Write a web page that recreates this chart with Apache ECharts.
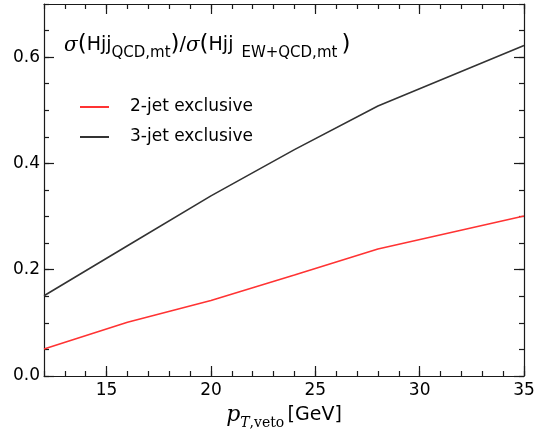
<!DOCTYPE html>
<html>
<head>
<meta charset="utf-8">
<script src="https://cdn.jsdelivr.net/npm/echarts@6/dist/echarts.min.js"></script>
<style>html,body{margin:0;padding:0;background:#fff}#c{width:538px;height:434px}</style>
</head>
<body>
<div id="c"></div>
<script>
var ptVeto = [12, 16, 20, 24, 28, 35];
var twoJetExcl = [0.051, 0.101, 0.142, 0.190, 0.239, 0.301];
var threeJetExcl = [0.151, 0.245, 0.339, 0.426, 0.508, 0.622];
var xMajorTicks = [15, 20, 25, 30, 35];
var xMinorTicks = [12,13,14,15,16,17,18,19,20,21,22,23,24,25,26,27,28,29,30,31,32,33,34,35];
var yMajorTicks = [0, 0.2, 0.4, 0.6];
var yMinorTicks = [0,0.05,0.1,0.15,0.2,0.25,0.3,0.35,0.4,0.45,0.5,0.55,0.6,0.65,0.7];
var seriesNames = ['2-jet exclusive', '3-jet exclusive'];

var FONT = 'DejaVu Sans';
var AX = '#1a1a1a';
function pairs(xs, ys){ return xs.map(function(x,i){ return [x, ys[i]]; }); }

function xAx(grid, pos, major, showLine){
  return {
    type:'value', gridIndex:grid, position:pos, min:12, max:35,
    axisLine:{show:showLine, onZero:false, lineStyle:{color:AX, width:1.2}},
    axisTick:{show:true, inside:true, length: major?10:5, customValues: major?xMajorTicks:xMinorTicks, lineStyle:{color:AX, width:1.2}},
    axisLabel:{show: major && pos==='bottom', customValues:xMajorTicks, margin:6, fontFamily:FONT, fontSize:17, color:'#000'},
    splitLine:{show:false}
  };
}
function yAx(grid, pos, major, showLine){
  return {
    type:'value', gridIndex:grid, position:pos, min:0, max:0.7,
    axisLine:{show:showLine, onZero:false, lineStyle:{color:AX, width:1.2}},
    axisTick:{show:true, inside:true, length: major?10:5, customValues: major?yMajorTicks:yMinorTicks, lineStyle:{color:AX, width:1.2}},
    axisLabel:{show: major && pos==='left', customValues:yMajorTicks, margin:4, fontFamily:FONT, fontSize:17, color:'#000',
      formatter:function(v){ return v.toFixed(1); }},
    splitLine:{show:false}
  };
}

var xA0 = xAx(0,'bottom',true,true);
xA0.name = '{p|p}{sub|T}{subr|,veto} {g|[GeV]}';
xA0.nameLocation = 'middle';
xA0.nameGap = 14;
xA0.nameTextStyle = {
  rich:{
    p:{fontFamily:'DejaVu Serif', fontStyle:'italic', fontSize:22, color:'#000', lineHeight:30},
    sub:{fontFamily:'DejaVu Serif', fontStyle:'italic', fontSize:14, color:'#000', lineHeight:10, verticalAlign:'bottom'},
    subr:{fontFamily:'DejaVu Serif', fontSize:14, color:'#000', lineHeight:10, verticalAlign:'bottom'},
    g:{fontFamily:FONT, fontSize:19, color:'#000', lineHeight:30}
  }
};

var chart = echarts.init(document.getElementById('c'), null, {renderer:'canvas'});
chart.setOption({
  animation:false,
  backgroundColor:'#fff',
  grid:[
    {left:44, right:14, top:4, bottom:58, containLabel:false, outerBoundsMode:'none'},
    {left:44, right:14, top:4, bottom:58, containLabel:false, outerBoundsMode:'none'}
  ],
  xAxis:[ xA0, xAx(0,'top',true,true), xAx(1,'bottom',false,false), xAx(1,'top',false,false) ],
  yAxis:[ yAx(0,'left',true,true), yAx(0,'right',true,true), yAx(1,'left',false,false), yAx(1,'right',false,false) ],
  legend:{
    orient:'vertical', left:75, top:92, itemGap:10, itemWidth:29, itemHeight:2, icon:'rect',
    textStyle:{fontFamily:FONT, fontSize:17, color:'#000', lineHeight:20, padding:[0,0,0,16]},
    data: seriesNames
  },
  series:[
    {name:seriesNames[0], type:'line', xAxisIndex:0, yAxisIndex:0, data:pairs(ptVeto, twoJetExcl), symbol:'none', showSymbol:false,
      lineStyle:{color:'#ff3333', width:1.6}, itemStyle:{color:'#ff3333'}},
    {name:seriesNames[1], type:'line', xAxisIndex:0, yAxisIndex:0, data:pairs(ptVeto, threeJetExcl), symbol:'none', showSymbol:false,
      lineStyle:{color:'#333333', width:1.6}, itemStyle:{color:'#333333'}}
  ],
  graphic:[{
    type:'text', left:64, top:34,
    style:{
      text:'{s|σ}{p|(}{m|Hjj}{sub|QCD,mt}{p|)}{m|/}{s|σ}{p|(}{m|Hjj}{gap|}{sub|EW+QCD,mt}{gap2|}{p|)}',
      rich:{
        s:{fontFamily:'DejaVu Serif', fontStyle:'italic', fontSize:20, fill:'#000', lineHeight:30},
        p:{fontFamily:FONT, fontSize:23, fill:'#000', lineHeight:30},
        m:{fontFamily:FONT, fontSize:19, fill:'#000', lineHeight:30},
        sub:{fontFamily:FONT, fontSize:15, fill:'#000', lineHeight:6, verticalAlign:'bottom'},
        gap:{width:8, lineHeight:30},
        gap2:{width:4, lineHeight:30}
      }
    }
  }]
});
</script>
</body>
</html>
